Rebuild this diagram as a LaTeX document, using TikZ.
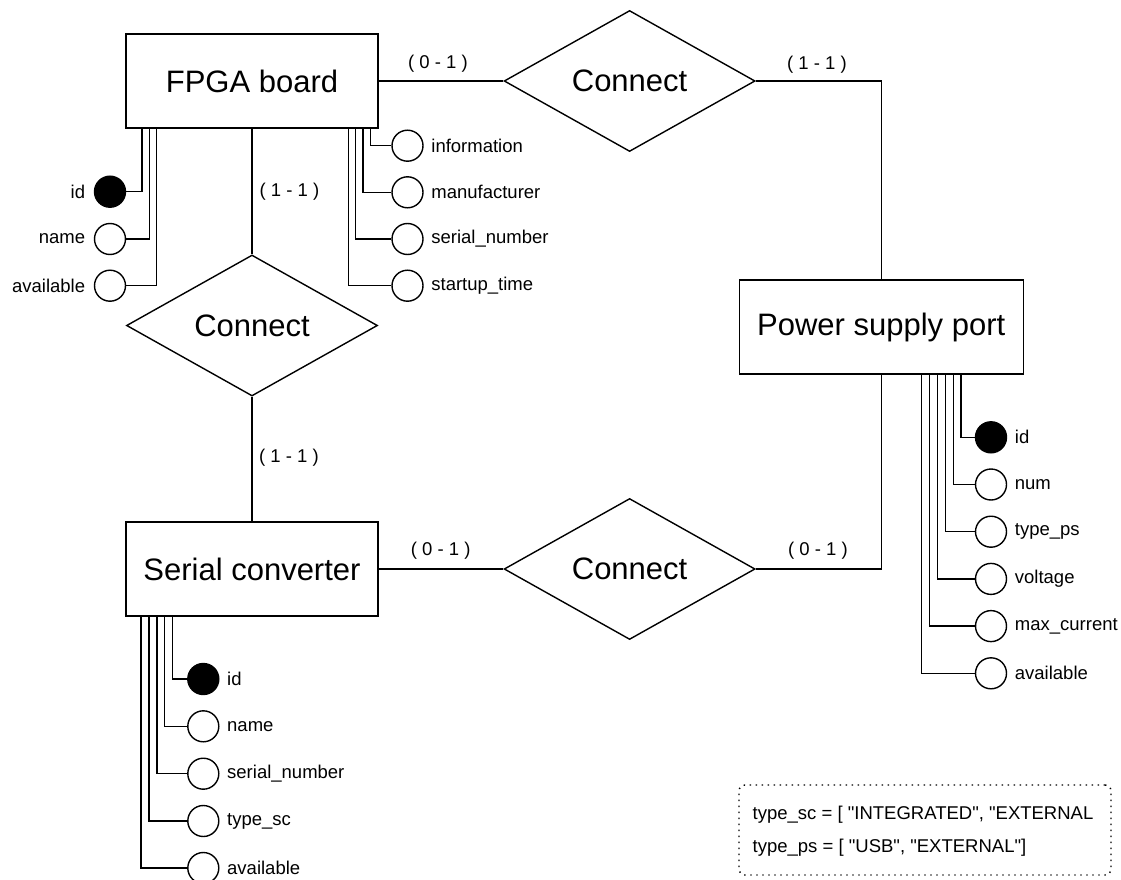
\documentclass[tikz,border=0pt]{standalone}
\usepackage{fontspec}
\setmainfont{Liberation Sans}
\newfontfamily\notefont{Liberation Sans}
\usetikzlibrary{shapes.geometric, positioning}

\begin{document}
\begin{tikzpicture}[x=1pt, y=-1pt, line width=1.4pt,
  entity/.style={draw, rectangle, inner sep=0pt, minimum height=94pt, font=\fontsize{31}{37}\selectfont},
  relation/.style={draw, diamond, aspect=1.78, inner sep=0pt, minimum width=251pt, minimum height=141pt, font=\fontsize{31}{37}\selectfont},
  attr/.style={draw, circle, fill=white, minimum size=31pt, inner sep=0pt},
  keyattr/.style={attr, fill=black},
  attrname/.style={inner sep=0pt, font=\fontsize{18.5}{22}\selectfont},
  card/.style={inner sep=0pt, font=\fontsize{18.5}{22}\selectfont},
  notebox/.style={draw, rounded corners=6pt, dash pattern=on 1.4pt off 4.6pt, minimum width=372pt, minimum height=90pt}]

\useasboundingbox (0,0) rectangle (1121,880);

% entities
\node[entity, minimum width=252pt] (fpga) at (252,81) {FPGA board};
\node[entity, minimum width=252pt] (sc) at (252,569) {Serial converter};
\node[entity, minimum width=284pt] (ps) at (881.2,327) {Power supply port};

% relations
\node[relation] (topconn) at (629.6,81) {Connect};
\node[relation] (leftconn) at (252,325.5) {Connect};
\node[relation] (botconn) at (629.6,569) {Connect};

\draw (fpga) -- (topconn);
\draw (topconn) -| (ps);
\draw (fpga) -- (leftconn);
\draw (leftconn) -- (sc);
\draw (sc) -- (botconn);
\draw (botconn) -| (ps);

\node[card] (c1) at (438,64) {( 0 - 1 )};
\node[card] (c2) at (817,65) {( 1 - 1 )};
\node[card] (c3) at (289.5,192) {( 1 - 1 )};
\node[card] (c4) at (289,458) {( 1 - 1 )};
\node[card] (c5) at (440.7,550.7) {( 0 - 1 )};
\node[card] (c6) at (818,551) {( 0 - 1 )};

% FPGA board attributes
\node[keyattr] (fid) at (110,191.7) {};
\node[attr] (fname) at (110,239) {};
\node[attr] (favail) at (110,285.7) {};
\node[attrname, left=8pt of fid] (fidt) {id};
\node[attrname, left=8pt of fname] (fnamet) {name};
\node[attrname, left=8pt of favail] (favailt) {available};
\draw ([xshift=16.7pt]fpga.south west) |- (fid);
\draw ([xshift=24pt]fpga.south west) |- (fname);
\draw ([xshift=31.3pt]fpga.south west) |- (favail);

\node[attr] (finfo) at (407.5,145.7) {};
\node[attr] (fmanu) at (407.5,192.3) {};
\node[attr] (fserial) at (407.5,239) {};
\node[attr] (fstart) at (407.5,285.7) {};
\node[attrname, right=7pt of finfo] (finfot) {information};
\node[attrname, right=7pt of fmanu] (fmanut) {manufacturer};
\node[attrname, right=7pt of fserial] (fserialt) {serial\_number};
\node[attrname, right=7pt of fstart] (fstartt) {startup\_time};
\draw ([xshift=-8pt]fpga.south east) |- (finfo);
\draw ([xshift=-15.7pt]fpga.south east) |- (fmanu);
\draw ([xshift=-23pt]fpga.south east) |- (fserial);
\draw ([xshift=-30.3pt]fpga.south east) |- (fstart);

% Power supply port attributes
\node[keyattr] (pid) at (991,437.3) {};
\node[attr] (pnum) at (991,484.5) {};
\node[attr] (ptype) at (991,531.7) {};
\node[attr] (pvolt) at (991,578.9) {};
\node[attr] (pcurr) at (991,626.1) {};
\node[attr] (pavail) at (991,673.3) {};
\node[attrname, right=7pt of pid] (pidt) {id};
\node[attrname, right=7pt of pnum] (pnumt) {num};
\node[attrname, right=7pt of ptype] (ptypet) {type\_ps};
\node[attrname, right=7pt of pvolt] (pvoltt) {voltage};
\node[attrname, right=7pt of pcurr] (pcurrt) {max\_current};
\node[attrname, right=7pt of pavail] (pavailt) {available};
\draw ([xshift=79.8pt]ps.south) |- (pid);
\draw ([xshift=72.1pt]ps.south) |- (pnum);
\draw ([xshift=64.5pt]ps.south) |- (ptype);
\draw ([xshift=56.5pt]ps.south) |- (pvolt);
\draw ([xshift=48.5pt]ps.south) |- (pcurr);
\draw ([xshift=40.5pt]ps.south) |- (pavail);

% Serial converter attributes
\node[keyattr] (sid) at (203.3,679) {};
\node[attr] (sname) at (203.3,726.3) {};
\node[attr] (sserial) at (203.3,773.7) {};
\node[attr] (stype) at (203.3,821) {};
\node[attr] (savail) at (203.3,868) {};
\node[attrname, right=7pt of sid] (sidt) {id};
\node[attrname, right=7pt of sname] (snamet) {name};
\node[attrname, right=7pt of sserial] (sserialt) {serial\_number};
\node[attrname, right=7pt of stype] (stypet) {type\_sc};
\node[attrname, right=7pt of savail] (savailt) {available};
\draw ([xshift=47.3pt]sc.south west) |- (sid);
\draw ([xshift=39.4pt]sc.south west) |- (sname);
\draw ([xshift=31.5pt]sc.south west) |- (sserial);
\draw ([xshift=23.6pt]sc.south west) |- (stype);
\draw ([xshift=15.7pt]sc.south west) |- (savail);

% note
\node[notebox] (note) at (925,830) {};
\node[attrname, anchor=west] (scvals) at (752,815) {\notefont type\_sc = [ "INTEGRATED", "EXTERNAL};
\node[attrname, anchor=west] (psvals) at (752,848) {\notefont type\_ps = [ "USB", "EXTERNAL"]};

\end{tikzpicture}
\end{document}
